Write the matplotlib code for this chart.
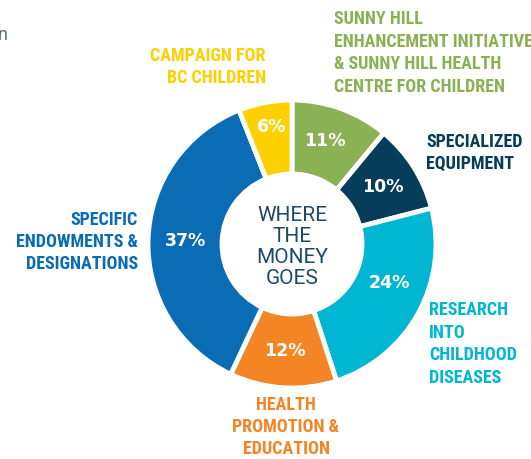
import matplotlib
matplotlib.use("Agg")
import matplotlib.pyplot as plt
from matplotlib import font_manager
import numpy as np

# ---- data ----
categories = [
    "SUNNY HILL\nENHANCEMENT INITIATIVE\n& SUNNY HILL HEALTH\nCENTRE FOR CHILDREN",
    "SPECIALIZED\nEQUIPMENT",
    "RESEARCH\nINTO\nCHILDHOOD\nDISEASES",
    "HEALTH\nPROMOTION &\nEDUCATION",
    "SPECIFIC\nENDOWMENTS &\nDESIGNATIONS",
    "CAMPAIGN FOR\nBC CHILDREN",
]
values = [11, 10, 24, 12, 37, 6]
center_title = "WHERE\nTHE\nMONEY\nGOES"

colors = ["#8bb155", "#053d5a", "#00b6d3", "#f38525", "#0a6cb5", "#fdd000"]

W, H = 531, 459
names = {f.name for f in font_manager.fontManager.ttflist}
cond = [f for f in ["Roboto Condensed", "Liberation Sans Narrow", "Roboto", "DejaVu Sans"] if f in names]
label_font = cond[0]
center_font = "Roboto" if "Roboto" in names else "DejaVu Sans"

fig = plt.figure(figsize=(W / 100, H / 100), dpi=100)
ax = fig.add_axes([0, 0, 1, 1])

cx, cy = 292, 244
R = 144
ring = 74

wedges, texts, autotexts = ax.pie(
    values, colors=colors, startangle=90, counterclock=False,
    radius=R, center=(cx, H - cy),
    wedgeprops=dict(width=ring, edgecolor="white", linewidth=3.5),
    autopct="%d%%", pctdistance=0.745,
    textprops=dict(color="white", fontsize=12.5, fontweight="bold", family="DejaVu Sans"),
)

# small placement tweaks of percentage labels (radius, angle offset in degrees)
pct_r = [108, 107, 105, 107, 107, 119]
pct_da = [2, 0, 7, 0, 0, -1]
for w, t, r, da in zip(wedges, autotexts, pct_r, pct_da):
    ang = np.deg2rad((w.theta1 + w.theta2) / 2 + da)
    t.set_position((cx + r * np.cos(ang), (H - cy) + r * np.sin(ang)))

ax.set_xlim(0, W)
ax.set_ylim(0, H)
ax.set_aspect("equal")
ax.axis("off")

# label placements (pixel coords, y from top)
label_pos = [
    (334, 53, "left"),
    (426, 153, "left"),
    (429, 344, "left"),
    (286, 427, "center"),
    (138, 242, "right"),
    (266, 67, "right"),
]
for (x, y, ha), txt, col in zip(label_pos, categories, colors):
    ax.text(x, H - y, txt, ha=ha, va="center", color=col, fontsize=13,
            fontweight="bold", family=label_font, linespacing=1.32,
            multialignment=ha)

ax.text(cx, H - 247, center_title, ha="center", va="center", color="#1d4b66",
        fontsize=15, family=center_font, linespacing=1.13)

ax.text(8, H - 35, "n", ha="right", va="center", color="#5a7080", fontsize=13,
        family=center_font)

fig.savefig("out.png", dpi=100)
